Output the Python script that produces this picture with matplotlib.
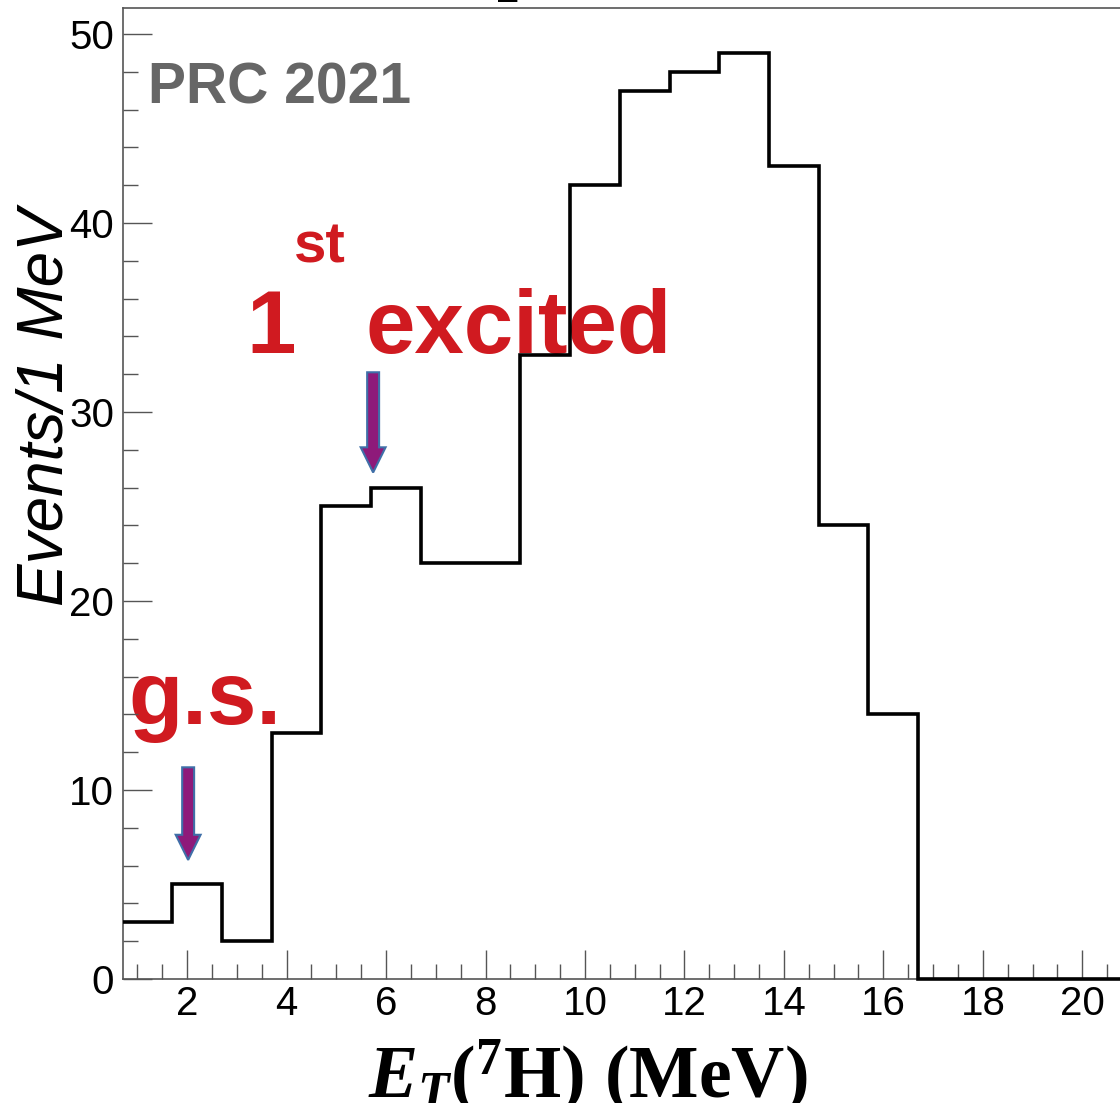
import numpy as np
import matplotlib.pyplot as plt
from matplotlib.patches import FancyArrow
from matplotlib.ticker import MultipleLocator

plt.rcParams['font.family'] = 'Liberation Sans'
plt.rcParams['mathtext.fontset'] = 'custom'
plt.rcParams['mathtext.rm'] = 'Liberation Serif:bold'
plt.rcParams['mathtext.it'] = 'Liberation Serif:italic:bold'
plt.rcParams['mathtext.bf'] = 'Liberation Serif:bold'

# E_T(7H) spectrum, 1 MeV bins starting at 0.7 MeV
bin_edges = np.arange(0.7, 22.0, 1.0)
counts = [3, 5, 2, 13, 25, 26, 22, 22, 33, 42, 47, 48, 49, 43, 24, 14, 0, 0, 0, 0, 0]

# marked states: (energy, arrow top, arrow tip)
gs_state = (2.02, 11.2, 6.3)
exc_state = (5.74, 32.1, 26.8)

red = '#D01A20'
W, H = 1120, 1103

fig = plt.figure(figsize=(W / 100, H / 100), dpi=100)
ax = fig.add_axes([122.5 / W, 124 / H, (1132 - 122.5) / W, 971.5 / H])

# histogram line
ax.stairs(counts, bin_edges, baseline=None, color='black', lw=2.6, zorder=3, clip_on=False)

ax.set_xlim(0.7, 21.0)
ax.set_ylim(0, 51.4)
ax.xaxis.set_major_locator(MultipleLocator(2))
ax.xaxis.set_minor_locator(MultipleLocator(0.5))
ax.yaxis.set_major_locator(MultipleLocator(10))
ax.yaxis.set_minor_locator(MultipleLocator(2))

for s in ax.spines.values():
    s.set_color('#555555')
    s.set_linewidth(1.2)
ax.tick_params(which='both', direction='in', color='#555555', width=1.0,
               top=False, right=False)
ax.tick_params(which='major', length=21)
ax.tick_params(which='minor', length=10.5)
ax.tick_params(axis='x', labelsize=29, pad=4)
ax.tick_params(axis='y', labelsize=29, pad=6)

# axis titles (ROOT style, placed by hand)
fig.text(16 / W, 1 - 208 / H, 'Events/1 MeV', rotation=90, ha='left', va='top',
         fontsize=46, style='italic')
fig.text(588 / W, 5 / H, r'$E_T(^{7}\mathrm{H})\ (\mathrm{MeV})$',
         ha='center', va='baseline', fontsize=53)
# bit of the cut off title above the frame
fig.text(497 / W, 1 + 14 / H, 'p', fontsize=54, family='Liberation Serif',
         weight='bold', ha='left', va='baseline')

ax.text(1.22, 46.3, 'PRC 2021', fontsize=41, weight='bold', color='#666666')

# state labels
ax.text(0.81, 13.5, 'g.s.', fontsize=64, weight='bold', color=red, zorder=1)
ax.text(3.2, 33.1, '1', fontsize=64, weight='bold', color=red, zorder=1)
ax.text(4.15, 37.9, 'st', fontsize=42, weight='bold', color=red, zorder=1)
ax.text(5.58, 33.1, 'excited', fontsize=64, weight='bold', color=red, zorder=1)

for x, ytop, ytip in [gs_state, exc_state]:
    ax.add_patch(FancyArrow(x, ytop, 0, ytip - ytop, width=0.24, head_width=0.5,
                            head_length=1.33, length_includes_head=True,
                            fc='#8E1A7A', ec='#3F6FA8', lw=1.5, zorder=4))

fig.savefig('out.png', dpi=100)
